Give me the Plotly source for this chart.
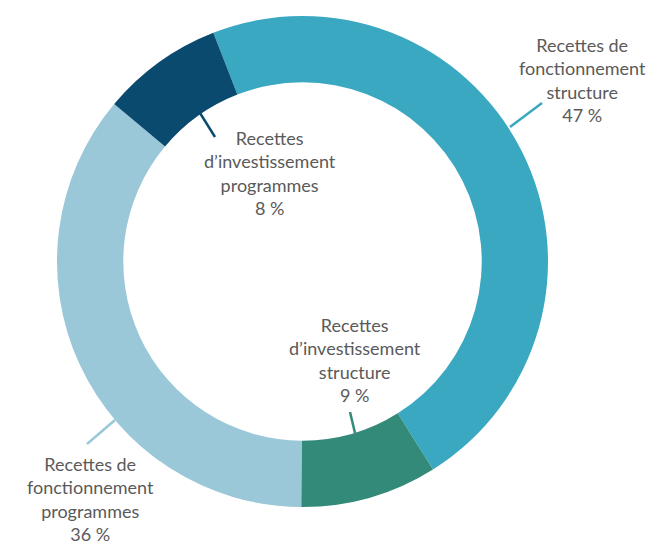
import plotly.graph_objects as go

labels = ["Recettes de fonctionnement structure",
          "Recettes d’investissement structure",
          "Recettes de fonctionnement programmes",
          "Recettes d’investissement programmes"]
values = [47, 9, 36, 8]
colors = ["#3aa8c1", "#338a78", "#9ac8d8", "#0b4a6f"]
label_text = ["Recettes de<br>fonctionnement<br>structure<br>47 %",
              "Recettes<br>d’investissement<br>structure<br>9 %",
              "Recettes de<br>fonctionnement<br>programmes<br>36 %",
              "Recettes<br>d’investissement<br>programmes<br>8 %"]

W, H = 658, 544
OFF = 8  # page body margin
def px(x): return (x - OFF) / W
def py(y): return 1 - (y - OFF) / H

fig = go.Figure(go.Pie(
    labels=labels, values=values, hole=0.73, sort=False,
    direction="clockwise", rotation=-21.3,
    marker=dict(colors=colors, line=dict(width=0)),
    textinfo="none", hoverinfo="label+percent", showlegend=False,
    domain=dict(x=[px(57), px(548)], y=[py(507), py(16)]),
))

# label centres (pixels) and leader lines (pixels)
label_pos = [(582, 80), (355, 360), (90, 499), (270, 173)]
leaders = [((510, 127), (542, 103)),
           ((350, 412), (355, 433)),
           ((115, 420), (87, 444)),
           ((200, 113), (215, 137))]

for t, (x, y) in zip(label_text, label_pos):
    fig.add_annotation(x=px(x), y=py(y), xref="paper", yref="paper",
                       xanchor="center", yanchor="middle",
                       text=t, showarrow=False, align="center",
                       font=dict(family="Lato", size=18, color="#5a5a5a"))
for c, ((x0, y0), (x1, y1)) in zip(colors, leaders):
    fig.add_shape(type="line", xref="paper", yref="paper",
                  x0=px(x0), y0=py(y0), x1=px(x1), y1=py(y1),
                  line=dict(color=c, width=2.5))

fig.update_layout(width=W, height=H, margin=dict(l=0, r=0, t=0, b=0),
                  paper_bgcolor="white", plot_bgcolor="white")
fig.write_html("out.html")
